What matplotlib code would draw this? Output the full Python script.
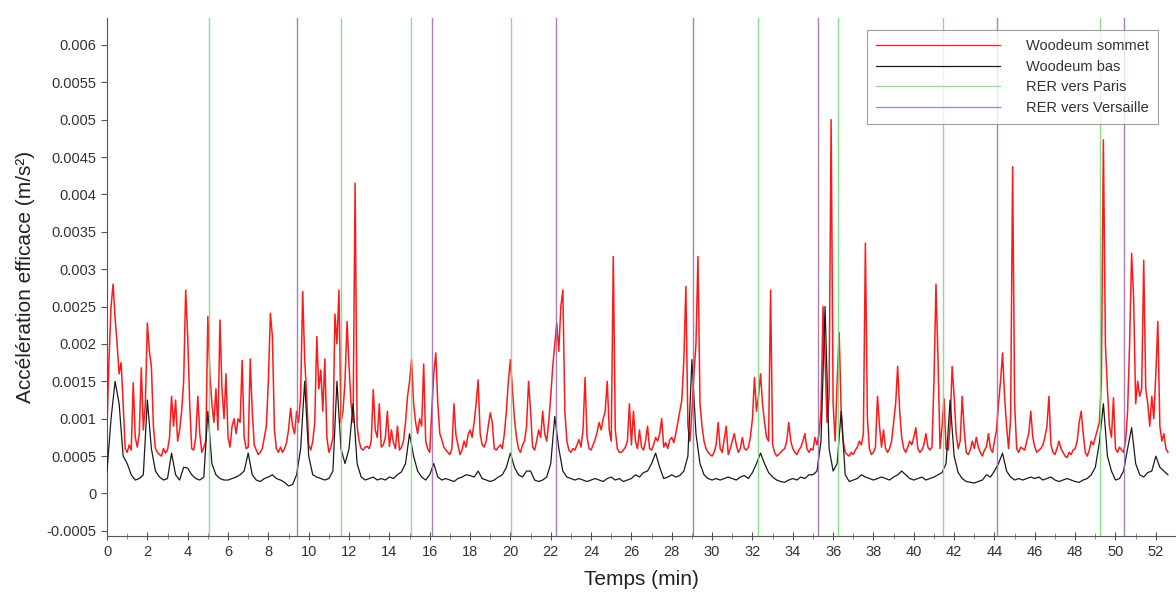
import numpy as np
import matplotlib
matplotlib.use("Agg")
import matplotlib.pyplot as plt
from matplotlib.ticker import MultipleLocator, FuncFormatter

# Woodeum sommet (red), values in 1e-5 m/s^2, step 0.1 min from t=0
red_e5 = [
    90, 180, 250, 280, 235, 200, 160, 175, 120, 60,
    55, 65, 58, 148, 75, 62, 80, 168, 85, 120,
    228, 190, 170, 90, 60, 55, 52, 50, 60, 54,
    58, 75, 130, 90, 125, 70, 85, 110, 150, 272,
    210, 120, 60, 58, 75, 130, 80, 55, 62, 70,
    237, 160, 120, 95, 140, 85, 232, 140, 100, 160,
    75, 62, 90, 100, 80, 100, 95, 178, 75, 60,
    62, 180, 110, 65, 58, 52, 55, 60, 75, 90,
    150, 241, 210, 85, 60, 55, 62, 55, 60, 68,
    85, 114, 90, 80, 110, 95, 130, 270, 180, 130,
    65, 58, 70, 95, 210, 140, 165, 110, 180, 75,
    55, 62, 75, 240, 200, 272, 95, 110, 150, 230,
    170, 120, 95, 415, 90, 70, 60, 58, 62, 63,
    60, 70, 139, 85, 75, 120, 62, 65, 75, 110,
    63, 85, 68, 60, 90, 58, 62, 70, 95, 130,
    150, 179, 120, 95, 80, 100, 90, 173, 70, 60,
    55, 110, 160, 188, 120, 80, 72, 62, 58, 55,
    52, 60, 120, 78, 65, 52, 58, 70, 62, 78,
    85, 75, 95, 120, 152, 80, 65, 62, 70, 90,
    108, 95, 60, 58, 62, 65, 60, 80, 110, 150,
    179, 140, 100, 75, 60, 55, 65, 70, 90, 150,
    110, 62, 58, 70, 85, 75, 110, 80, 70, 95,
    130, 170, 200, 228, 190, 250, 272, 110, 70, 58,
    55, 60, 58, 65, 72, 62, 85, 155, 75, 60,
    58, 65, 72, 82, 95, 85, 100, 110, 150, 85,
    70, 317, 85, 60, 55, 55, 58, 62, 70, 120,
    65, 110, 70, 60, 85, 62, 58, 70, 90, 60,
    58, 65, 75, 70, 80, 100, 62, 68, 60, 72,
    75, 68, 80, 95, 110, 125, 180, 277, 90, 70,
    110, 160, 200, 317, 120, 90, 70, 60, 55, 52,
    50, 55, 65, 95, 60, 55, 72, 90, 52, 60,
    70, 80, 65, 55, 60, 75, 60, 58, 62, 75,
    100, 155, 110, 130, 160, 120, 95, 75, 70, 272,
    65, 55, 50, 52, 55, 58, 60, 70, 95, 70,
    60, 55, 52, 58, 62, 70, 80, 60, 55, 60,
    58, 75, 65, 80, 110, 250, 180, 95, 130, 500,
    120, 70, 150, 215, 110, 70, 55, 52, 50, 55,
    52, 58, 62, 70, 65, 80, 335, 100, 60, 52,
    55, 62, 130, 90, 62, 85, 60, 55, 60, 70,
    95, 120, 170, 110, 75, 60, 55, 62, 70, 65,
    75, 88, 60, 55, 58, 65, 80, 62, 58, 62,
    150, 280, 180, 60, 90, 127, 60, 58, 90, 170,
    130, 80, 60, 70, 130, 85, 55, 52, 58, 70,
    60, 75, 62, 55, 50, 58, 62, 80, 60, 55,
    70, 85, 120, 150, 188, 130, 90, 60, 100, 437,
    120, 60, 55, 62, 60, 58, 70, 80, 110, 75,
    62, 55, 58, 60, 65, 75, 90, 130, 65, 55,
    52, 60, 70, 60, 55, 50, 48, 55, 52, 58,
    60, 70, 95, 110, 80, 55, 50, 58, 70, 65,
    75, 85, 95, 150, 473, 200, 140, 90, 75, 128,
    60, 55, 62, 58, 55, 70, 110, 200, 321, 260,
    120, 150, 130, 140, 312, 140, 120, 90, 130, 100,
    160, 230, 90, 70, 80, 60, 55,
]

# Woodeum bas (black), values in 1e-5 m/s^2, step 0.2 min from t=0
black_e5 = [
    30, 100, 150, 120, 50,
    40, 25, 18, 20, 25,
    125, 60, 30, 22, 18,
    20, 54, 25, 18, 35,
    34, 25, 20, 18, 22,
    110, 40, 25, 20, 18,
    18, 20, 22, 25, 30,
    54, 25, 18, 16, 20,
    22, 25, 20, 18, 15,
    10, 12, 25, 60, 150,
    50, 25, 22, 20, 18,
    20, 30, 150, 60, 40,
    60, 120, 40, 22, 18,
    20, 22, 18, 20, 18,
    22, 20, 25, 29, 40,
    80, 50, 30, 22, 18,
    25, 40, 22, 18, 20,
    18, 16, 20, 22, 25,
    24, 22, 30, 20, 18,
    16, 18, 22, 25, 35,
    54, 35, 25, 22, 30,
    30, 18, 16, 18, 22,
    40, 103, 60, 30, 22,
    20, 18, 20, 18, 16,
    18, 20, 18, 16, 20,
    22, 18, 20, 16, 18,
    20, 25, 22, 28, 30,
    40, 54, 35, 20, 22,
    25, 22, 24, 30, 50,
    179, 80, 40, 25, 20,
    18, 20, 18, 20, 22,
    20, 18, 22, 24, 20,
    28, 40, 54, 40, 28,
    22, 18, 16, 15, 18,
    20, 18, 22, 20, 25,
    25, 30, 70, 250, 60,
    30, 40, 110, 25, 16,
    18, 20, 25, 22, 20,
    18, 20, 22, 20, 18,
    22, 25, 30, 25, 20,
    18, 20, 22, 18, 20,
    22, 25, 28, 40, 125,
    50, 28, 20, 16, 15,
    14, 16, 18, 25, 22,
    30, 40, 54, 30, 22,
    18, 20, 18, 20, 22,
    20, 22, 18, 20, 22,
    18, 16, 18, 20, 18,
    16, 15, 18, 20, 25,
    35, 68, 120, 50, 30,
    18, 20, 30, 60, 88,
    40, 25, 22, 28, 30,
    50, 35, 30, 25,
]

rer_paris = [5.05, 11.6, 15.07, 20.03, 32.28, 36.24, 41.45, 49.23]
rer_versaille = [9.42, 16.11, 22.26, 29.05, 35.25, 44.12, 50.42]

red = np.array(red_e5) * 1e-5
black = np.array(black_e5) * 1e-5
t_red = np.arange(len(red)) * 0.1
t_black = np.arange(len(black)) * 0.2

plt.rcParams['font.family'] = ['Liberation Sans', 'DejaVu Sans']

fig = plt.figure(figsize=(11.76, 5.99), dpi=100)
ax = fig.add_axes([0.091, 0.105, 0.909, 0.865])

c_green = '#7ddc7d'
c_purple = '#a070b8'

ax.plot(t_red, red, color='#ff1a1a', lw=1.1, label='Woodeum sommet', zorder=2)
ax.plot(t_black, black, color='#1a1a1a', lw=0.9, label='Woodeum bas', zorder=3)
for i, x in enumerate(rer_paris):
    ax.axvline(x, color=c_green, lw=1.0, alpha=0.9, zorder=4,
               label='RER vers Paris' if i == 0 else None)
for i, x in enumerate(rer_versaille):
    ax.axvline(x, color=c_purple, lw=1.0, alpha=0.9, zorder=4,
               label='RER vers Versaille' if i == 0 else None)

ax.set_xlim(0, 53.0)
ax.set_ylim(-0.00057, 0.00636)

ax.xaxis.set_major_locator(MultipleLocator(2))
ax.xaxis.set_minor_locator(MultipleLocator(1))
ax.yaxis.set_major_locator(MultipleLocator(0.0005))
ax.yaxis.set_major_formatter(FuncFormatter(lambda v, p: '0' if abs(v) < 1e-12 else ('%g' % round(v, 6))))

for s in ['top', 'right']:
    ax.spines[s].set_visible(False)
for s in ['left', 'bottom']:
    ax.spines[s].set_color('#555555')
    ax.spines[s].set_linewidth(0.8)

ax.tick_params(axis='both', which='major', direction='out', length=4, width=0.8,
               colors='#555555', labelcolor='#333333', labelsize=10.5)
ax.tick_params(axis='x', which='minor', direction='inout', length=4, width=0.6, colors='#777777')
ax.tick_params(axis='x', which='major', direction='inout', length=6)

ax.set_xlabel('Temps (min)', fontsize=15, color='#222222', labelpad=8)
ax.set_ylabel('Accélération efficace (m/s²)', fontsize=15, color='#222222', labelpad=8)

leg = ax.legend(loc='upper right', bbox_to_anchor=(0.99, 0.99), fontsize=10.5,
                handlelength=8.5, frameon=True, fancybox=False, borderpad=0.6,
                labelspacing=0.45, handletextpad=1.8)
leg.get_frame().set_edgecolor('#888888')
leg.get_frame().set_linewidth(0.8)
for h in leg.get_lines():
    h.set_linewidth(0.9)
for txt in leg.get_texts():
    txt.set_color('#333333')
leg.set_zorder(10)

fig.savefig('out.png', dpi=100, facecolor='white')
